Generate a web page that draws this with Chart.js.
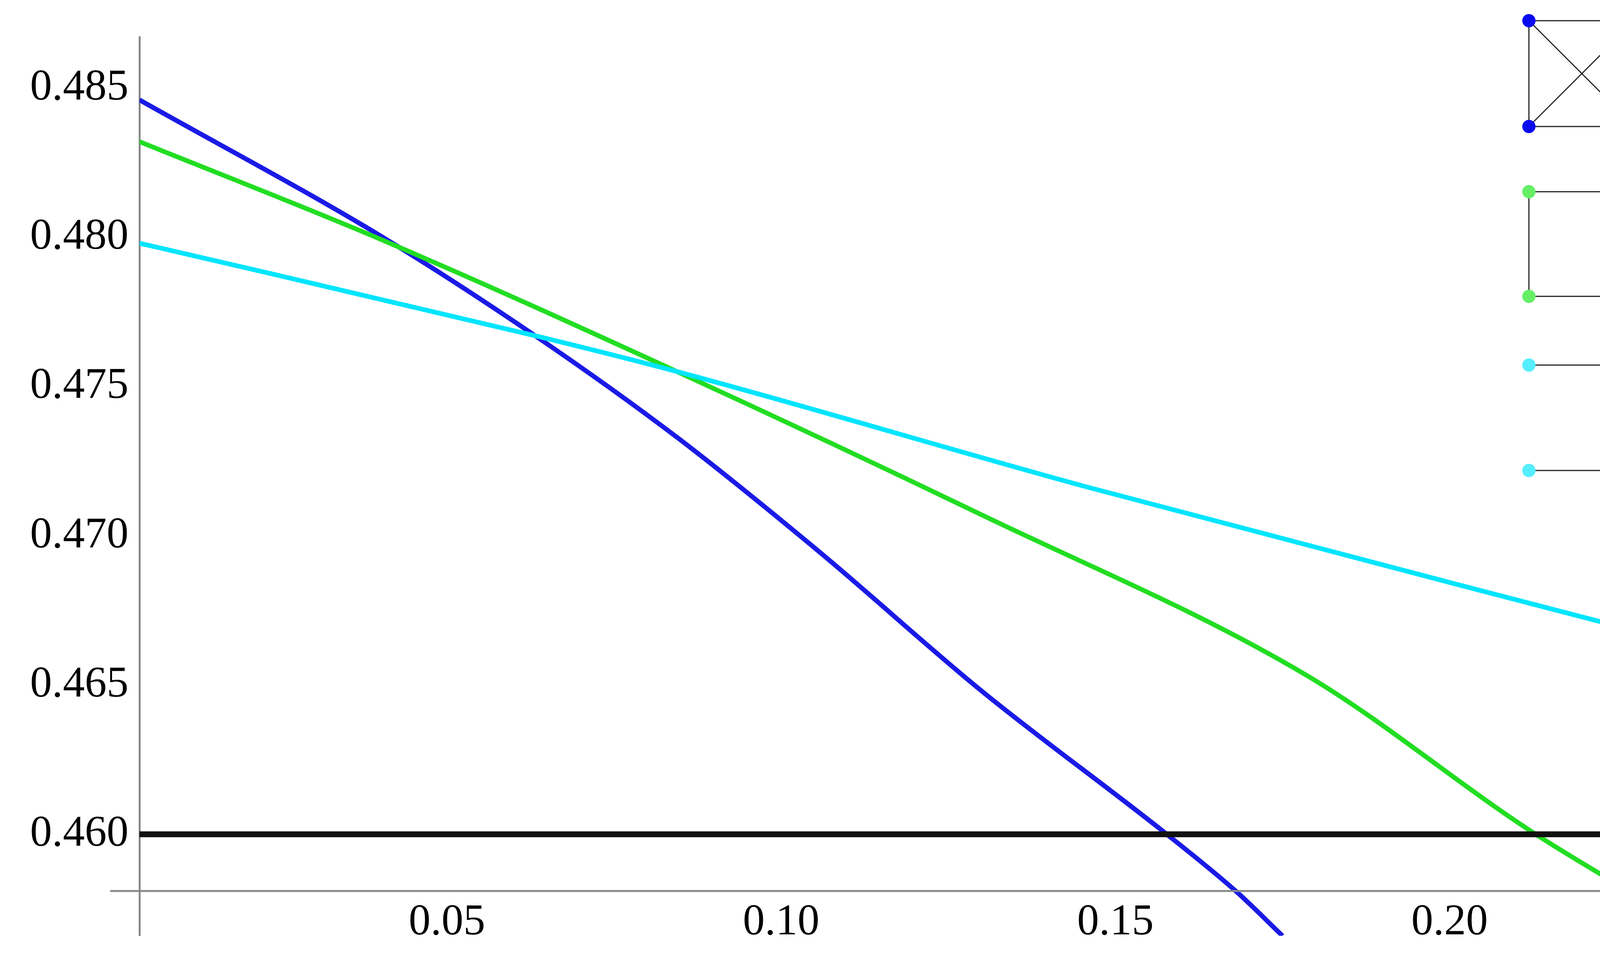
<!DOCTYPE html>
<html>
<head>
<meta charset="utf-8">
<script src="https://cdn.jsdelivr.net/npm/chart.js@4"></script>
<style>
  html, body { margin: 0; padding: 0; background: #fff; overflow: hidden; }
  #chart { display: block; width: 4355px; height: 2492px; }
</style>
</head>
<body>
<canvas id="chart" width="4355" height="2492"></canvas>
<script>
// values
const blueX = [0.004, 0.0404, 0.0632, 0.0844, 0.1055, 0.130, 0.1577, 0.168, 0.175];
const blueY = [0.4846, 0.4800, 0.4767, 0.4733, 0.4695, 0.4648, 0.4600, 0.4581, 0.4566];
const greenX = [0.004, 0.0404, 0.0844, 0.130, 0.1788, 0.2122, 0.2298];
const greenY = [0.4832, 0.4799, 0.4755, 0.4707, 0.4653, 0.4601, 0.4577];
const cyanX = [0.004, 0.0632, 0.0844, 0.1463, 0.2298];
const cyanY = [0.4798, 0.4767, 0.4755, 0.4716, 0.4667];
const refX = [0.004, 0.2298];
const refY = [0.460, 0.460];
const yTicks = [0.460, 0.465, 0.470, 0.475, 0.480, 0.485];
const xTicks = [0.05, 0.10, 0.15, 0.20];
const xAxisAt = 0.4581;

const pts = (xs, ys) => xs.map((x, i) => ({ x: x, y: ys[i] }));
const serif = '"Liberation Serif", "DejaVu Serif", serif';

const BLUE = "#1a1ae6", GREEN = "#22dd22", CYAN = "#00e5ff";

const axisPlugin = {
    id: "axisPlugin",
    afterDraw(chart) {
        const ctx = chart.ctx;
        const xs = chart.scales.x, ys = chart.scales.y;
        const y0 = ys.getPixelForValue(xAxisAt);
        ctx.save();
        ctx.strokeStyle = "#888";
        ctx.lineWidth = 5;
        ctx.beginPath();
        ctx.moveTo(xs.left - 75, y0);
        ctx.lineTo(xs.right, y0);
        ctx.stroke();
        ctx.fillStyle = "#000";
        ctx.font = "112px " + serif;
        ctx.textAlign = "center";
        ctx.textBaseline = "top";
        xTicks.forEach(t => ctx.fillText(t.toFixed(2), xs.getPixelForValue(t), y0 + 25));
        ctx.font = "italic 140px " + serif;
        ctx.textAlign = "left";
        ctx.textBaseline = "middle";
        ctx.fillText("a", xs.right + 40, y0 + 55);

        // small graph icons at top right
        const L = 3914, R = 4185;
        function dot(x, y, c) {
            ctx.fillStyle = c;
            ctx.beginPath(); ctx.arc(x, y, 17, 0, Math.PI * 2); ctx.fill();
        }
        function edge(a, b, c, d) {
            ctx.strokeStyle = "#222"; ctx.lineWidth = 3;
            ctx.beginPath(); ctx.moveTo(a, b); ctx.lineTo(c, d); ctx.stroke();
        }
        let t = 53, b = 324;
        edge(L, t, R, t); edge(R, t, R, b); edge(R, b, L, b); edge(L, b, L, t);
        edge(L, t, R, b); edge(R, t, L, b);
        [[L, t], [R, t], [L, b], [R, b]].forEach(p => dot(p[0], p[1], "#0a0af0"));
        t = 491; b = 759;
        edge(L, t, R, t); edge(R, t, R, b); edge(R, b, L, b); edge(L, b, L, t);
        [[L, t], [R, t], [L, b], [R, b]].forEach(p => dot(p[0], p[1], "#66ee66"));
        [935, 1205].forEach(y => {
            edge(L, y, R, y);
            dot(L, y, "#55eeff"); dot(R, y, "#55eeff");
        });
        ctx.restore();
    }
};

const line = (data, color, width) => ({
    data: data, borderColor: color, borderWidth: width, showLine: true,
    pointRadius: 0, cubicInterpolationMode: "monotone", fill: false
});

new Chart(document.getElementById("chart"), {
    type: "scatter",
    data: {
        datasets: [
            line(pts(refX, refY), "#111", 15),
            line(pts(cyanX, cyanY), CYAN, 12),
            line(pts(greenX, greenY), GREEN, 12),
            line(pts(blueX, blueY), BLUE, 12)
        ]
    },
    options: {
        responsive: false,
        devicePixelRatio: 1,
        animation: false,
        layout: { padding: { top: 28, bottom: 28, right: 134, left: 0 } },
        plugins: { legend: { display: false }, tooltip: { enabled: false } },
        scales: {
            x: {
                type: "linear", min: 0.004, max: 0.2298, display: false
            },
            y: {
                type: "linear", min: 0.4566, max: 0.4867,
                afterBuildTicks: s => { s.ticks = yTicks.map(v => ({ value: v })); },
                afterFit: s => { s.width = 357; },
                grid: { display: false, drawTicks: false },
                border: { color: "#888", width: 5 },
                ticks: {
                    color: "#000", padding: 28,
                    font: { family: serif, size: 112 },
                    callback: v => v.toFixed(3)
                }
            }
        }
    },
    plugins: [axisPlugin]
});
</script>
</body>
</html>
